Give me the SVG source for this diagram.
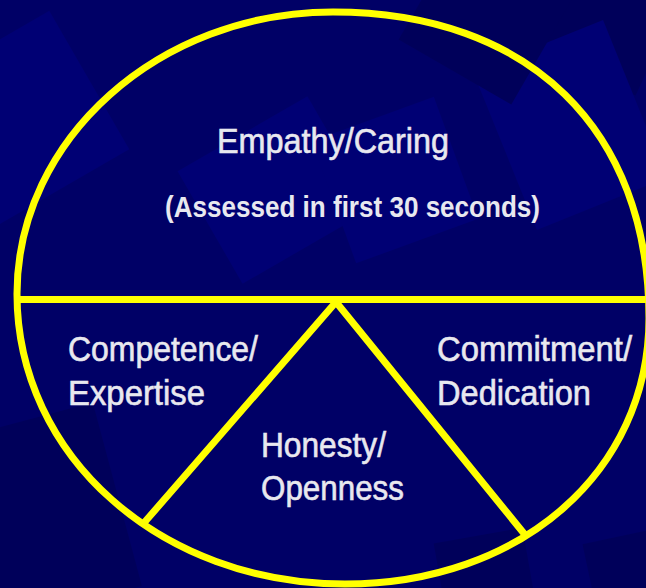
<svg xmlns="http://www.w3.org/2000/svg" width="646" height="588" viewBox="0 0 646 588">
  <style>
    .bg { fill: #000066; }
    .tile-light { fill: #000074; }
    .tile-dark { fill: #00005a; }
    .rim { fill: none; stroke: #ffff00; stroke-width: 7; }
    .divider { fill: none; stroke: #ffff00; stroke-width: 7; stroke-linejoin: miter; stroke-linecap: butt; }
    .label { font-family: "Liberation Sans", Arial, sans-serif; fill: #e8e8ef; stroke: #e8e8ef; stroke-width: 0.6; font-size: 35px; }
    .note { font-size: 30px; font-weight: bold; stroke-width: 0; }
  </style>

  <!-- backdrop with faint tilted tiles -->
  <rect class="bg" x="0" y="0" width="646" height="588"/>
  <g id="backdrop">
    <rect class="tile-light" x="-60" y="40" width="160" height="160" transform="rotate(-30 20 120)"/>
    <rect class="tile-dark" x="520" y="-60" width="150" height="130" transform="rotate(25 595 5)"/>
    <rect class="tile-light" x="500" y="40" width="140" height="170" transform="rotate(-22 570 125)"/>
    <rect class="tile-light" x="200" y="125" width="150" height="130" transform="rotate(-30 275 190)"/>
    <rect class="tile-light" x="330" y="115" width="130" height="130" transform="rotate(-20 395 180)"/>
    <rect class="tile-dark" x="-40" y="420" width="160" height="190" transform="rotate(-15 40 515)"/>
    <rect class="tile-dark" x="440" y="535" width="90" height="80" transform="rotate(-10 485 575)"/>
    <rect class="tile-dark" x="590" y="535" width="80" height="80" transform="rotate(-12 630 575)"/>
    <rect class="tile-dark" x="420" y="-40" width="130" height="120" transform="rotate(30 485 20)"/>
  </g>

  <!-- outer rim -->
  <g id="outline">
    <path class="rim" d="M333,12 C530,12 649,130 649,318 C649,472 520,584 345,584 C161,584 17,456 17,294 C17,139 159,12 333,12 Z"/>
  </g>

  <!-- dividing strokes -->
  <g id="connectors">
    <line class="divider" x1="17" y1="299.5" x2="650" y2="299.5"/>
    <polyline class="divider" points="143,524 336,302 526,536"/>
  </g>

  <g id="sector-empathy">
    <text class="label" x="217" y="153" textLength="232" lengthAdjust="spacingAndGlyphs">Empathy/Caring</text>
    <text class="label note" x="165" y="217" textLength="375" lengthAdjust="spacingAndGlyphs">(Assessed in first 30 seconds)</text>
  </g>

  <g id="sector-competence">
    <text class="label" x="68" y="361" textLength="190" lengthAdjust="spacingAndGlyphs">Competence/</text>
    <text class="label" x="68" y="405" textLength="137" lengthAdjust="spacingAndGlyphs">Expertise</text>
  </g>

  <g id="sector-commitment">
    <text class="label" x="437" y="361" textLength="195" lengthAdjust="spacingAndGlyphs">Commitment/</text>
    <text class="label" x="437" y="405" textLength="154" lengthAdjust="spacingAndGlyphs">Dedication</text>
  </g>

  <g id="sector-honesty">
    <text class="label" x="261" y="457" textLength="125" lengthAdjust="spacingAndGlyphs">Honesty/</text>
    <text class="label" x="261" y="500" textLength="143" lengthAdjust="spacingAndGlyphs">Openness</text>
  </g>
</svg>
